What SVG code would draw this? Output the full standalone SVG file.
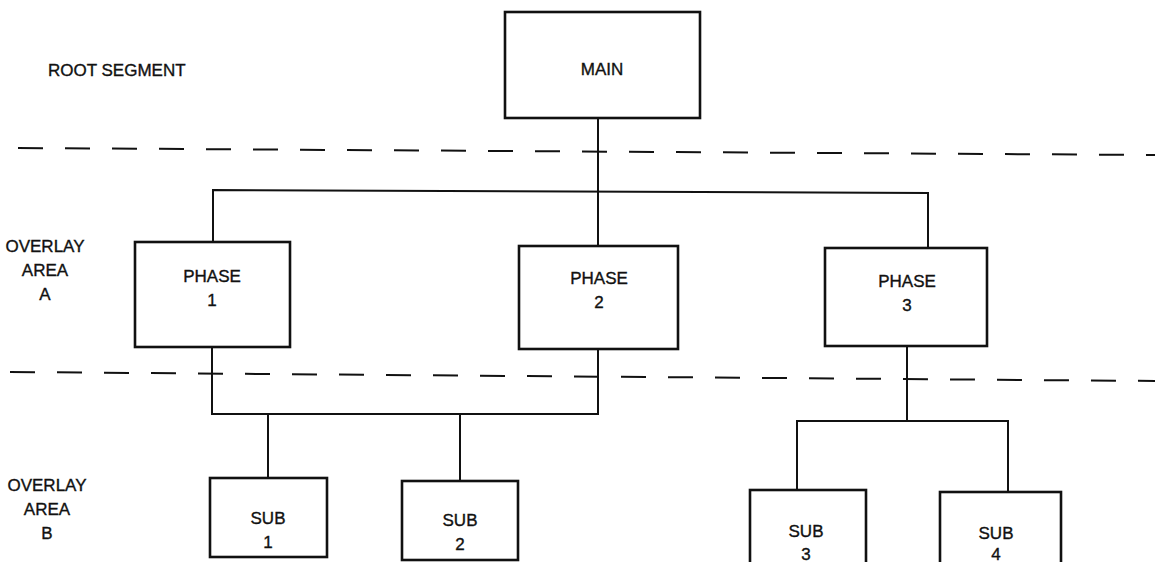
<svg xmlns="http://www.w3.org/2000/svg" width="1155" height="562" viewBox="0 0 1155 562">
  <style>
    .box { fill: #fff; stroke: #111; stroke-width: 2.6; }
    .wire { fill: none; stroke: #111; stroke-width: 2; }
    .divider { fill: none; stroke: #111; stroke-width: 2; stroke-dasharray: 25 22; }
    text { font-family: "Liberation Sans", Arial, sans-serif; font-size: 17px; fill: #111; stroke: #111; stroke-width: 0.35; }
    .c { text-anchor: middle; }
  </style>

  <!-- area dividers -->
  <g id="dividers">
    <line class="divider" x1="18" y1="148" x2="1155" y2="155"/>
    <line class="divider" x1="10" y1="372" x2="1155" y2="381"/>
  </g>

  <!-- area labels -->
  <g id="labels">
    <text x="48" y="76">ROOT SEGMENT</text>
    <text class="c" x="45" y="252">OVERLAY</text>
    <text class="c" x="45" y="276">AREA</text>
    <text class="c" x="45" y="300">A</text>
    <text class="c" x="47" y="491">OVERLAY</text>
    <text class="c" x="47" y="515">AREA</text>
    <text class="c" x="47" y="539">B</text>
  </g>

  <!-- tree connectors -->
  <g id="connectors">
    <path class="wire" d="M598 118 V246"/>
    <path class="wire" d="M213 242 V190 L928 193 V248"/>
    <path class="wire" d="M212 347 V414 H598 V349"/>
    <path class="wire" d="M268 414 V478"/>
    <path class="wire" d="M460 414 V481"/>
    <path class="wire" d="M907 346 V421"/>
    <path class="wire" d="M797 490 V421 H1008 V492"/>
  </g>

  <g id="main">
    <rect class="box" x="505" y="12" width="195" height="106"/>
    <text class="c" x="602" y="75">MAIN</text>
  </g>

  <g id="phase1">
    <rect class="box" x="135" y="242" width="155" height="105"/>
    <text class="c" x="212" y="282">PHASE</text>
    <text class="c" x="212" y="306">1</text>
  </g>
  <g id="phase2">
    <rect class="box" x="519" y="246" width="159" height="103"/>
    <text class="c" x="599" y="284">PHASE</text>
    <text class="c" x="599" y="308">2</text>
  </g>
  <g id="phase3">
    <rect class="box" x="825" y="248" width="162" height="98"/>
    <text class="c" x="907" y="287">PHASE</text>
    <text class="c" x="907" y="311">3</text>
  </g>

  <g id="sub1">
    <rect class="box" x="210" y="478" width="117" height="79"/>
    <text class="c" x="268" y="524">SUB</text>
    <text class="c" x="268" y="548">1</text>
  </g>
  <g id="sub2">
    <rect class="box" x="402" y="481" width="116" height="79"/>
    <text class="c" x="460" y="526">SUB</text>
    <text class="c" x="460" y="550">2</text>
  </g>
  <g id="sub3">
    <rect class="box" x="750" y="490" width="116" height="90"/>
    <text class="c" x="806" y="537">SUB</text>
    <text class="c" x="806" y="560">3</text>
  </g>
  <g id="sub4">
    <rect class="box" x="940" y="492" width="121" height="90"/>
    <text class="c" x="996" y="539">SUB</text>
    <text class="c" x="996" y="560">4</text>
  </g>
</svg>
